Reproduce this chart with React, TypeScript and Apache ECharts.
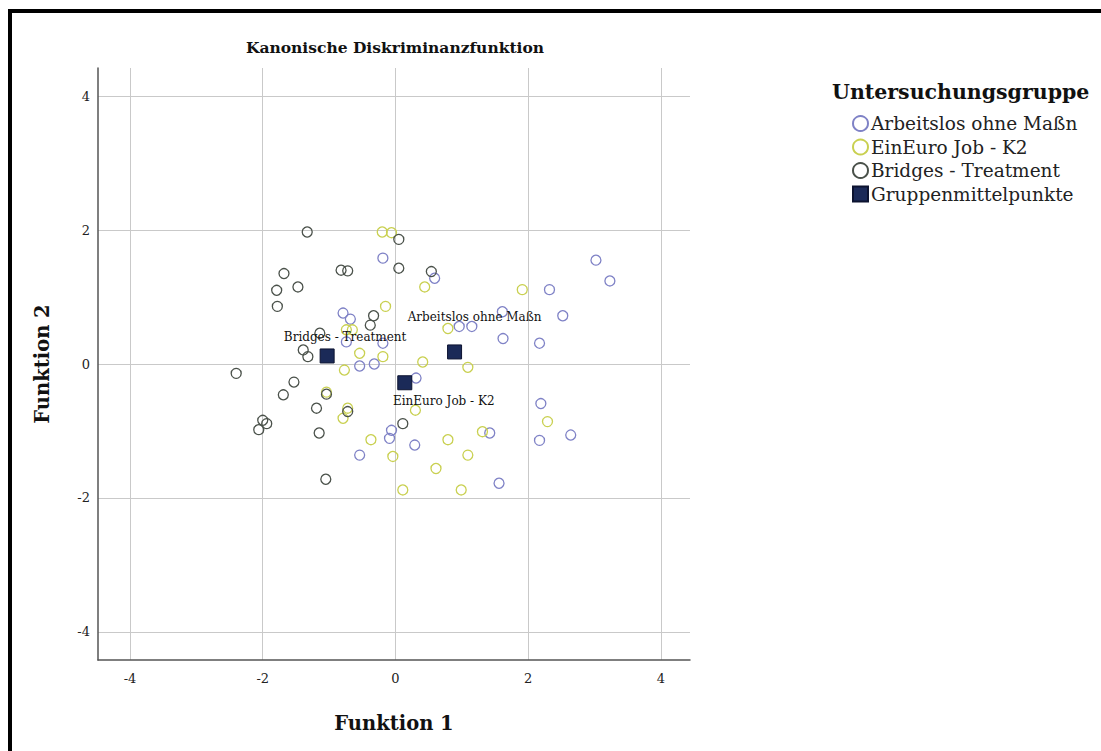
import React, { useEffect, useRef } from "react";
import * as echarts from "echarts";

// Discriminant scores per group: [Funktion 1, Funktion 2]
const arbeitslos: number[][] = [
  [-0.19, 1.58], [0.59, 1.28], [2.32, 1.11], [3.02, 1.55], [3.23, 1.24],
  [1.61, 0.78], [2.52, 0.72], [0.96, 0.56], [1.15, 0.56], [1.62, 0.38],
  [2.17, 0.31], [0.31, -0.21], [-0.79, 0.76], [-0.68, 0.67], [-0.74, 0.33],
  [-0.19, 0.31], [-0.54, -0.03], [-0.32, 0.0], [-0.54, -1.36], [-0.09, -1.11],
  [-0.06, -0.99], [0.29, -1.21], [1.42, -1.03], [1.56, -1.78], [2.19, -0.59],
  [2.17, -1.14], [2.64, -1.06],
];

const einEuro: number[][] = [
  [-0.2, 1.97], [-0.06, 1.96], [0.44, 1.15], [1.91, 1.11], [-0.15, 0.86],
  [-0.74, 0.51], [-0.65, 0.51], [0.79, 0.53], [-0.54, 0.16], [-0.19, 0.11],
  [-0.77, -0.09], [0.41, 0.03], [1.09, -0.05], [-1.04, -0.42], [-0.72, -0.66],
  [-0.79, -0.81], [-0.37, -1.13], [-0.04, -1.38], [0.11, -1.88], [0.3, -0.69],
  [0.79, -1.13], [1.09, -1.36], [1.31, -1.01], [0.61, -1.56], [0.99, -1.88],
  [2.29, -0.86],
];

const bridges: number[][] = [
  [-1.33, 1.97], [0.05, 1.86], [0.05, 1.43], [-0.82, 1.4], [-0.72, 1.39],
  [-1.68, 1.35], [-1.47, 1.15], [-1.79, 1.1], [-1.78, 0.86], [-0.33, 0.72],
  [-0.38, 0.58], [-1.14, 0.46], [-1.39, 0.21], [-1.32, 0.11], [-2.4, -0.14],
  [-1.53, -0.27], [-1.69, -0.46], [-1.04, -0.45], [-1.19, -0.66], [-0.72, -0.71],
  [-2.0, -0.84], [-1.94, -0.89], [-2.06, -0.98], [-1.15, -1.03], [-1.05, -1.72],
  [0.11, -0.89], [0.54, 1.38],
];

const centroidNames = ["Arbeitslos ohne Maßn", "EinEuro Job - K2", "Bridges - Treatment"];
const centroids: number[][] = [
  [0.89, 0.18],
  [0.14, -0.28],
  [-1.03, 0.12],
];

const groupNames = ["Arbeitslos ohne Maßn", "EinEuro Job - K2", "Bridges - Treatment"];
const centroidLegend = "Gruppenmittelpunkte";
const tickValues = [-4, -2, 0, 2, 4];

const SERIF = "'DejaVu Serif', 'Liberation Serif', serif";

export default function App() {
  const ref = useRef<HTMLDivElement>(null);

  useEffect(() => {
    if (!ref.current) return;
    document.body.style.overflow = "hidden";
    const chart = echarts.init(ref.current, null, { renderer: "svg" });

    const groupColors = ["#7f82c6", "#c9d050", "#4a514a"];
    const groupData = [arbeitslos, einEuro, bridges];

    const scatter = groupNames.map((name, i) => ({
      name,
      type: "scatter",
      data: groupData[i],
      symbol: "circle",
      symbolSize: 10,
      itemStyle: {
        color: "rgba(255,255,255,0)",
        borderColor: groupColors[i],
        borderWidth: 1.3,
        opacity: 1,
      },
      z: 3,
    }));

    const labelPlacement: any[] = [
      { position: "top", offset: [20, -16] },
      { position: "bottom", offset: [39, 0] },
      { position: "top", offset: [18, 0] },
    ];

    const centroidSeries = {
      name: centroidLegend,
      type: "scatter",
      symbol: "rect",
      symbolSize: 14,
      z: 5,
      itemStyle: { color: "#1b2a58", borderColor: "#0c1330", borderWidth: 1, opacity: 1 },
      data: centroids.map((c, i) => ({
        value: c,
        name: centroidNames[i],
        label: {
          show: true,
          formatter: centroidNames[i],
          distance: 5,
          fontFamily: SERIF,
          fontSize: 12,
          color: "#111",
          ...labelPlacement[i],
        },
      })),
    };

    const axisCommon = {
      type: "value" as const,
      axisLine: { show: true, onZero: false, lineStyle: { color: "#555", width: 1.5 } },
      axisTick: { show: false, customValues: tickValues },
      splitLine: { show: true, lineStyle: { color: "#c9c9c9", width: 1 } },
      nameTextStyle: { fontFamily: SERIF, fontWeight: "bold", fontSize: 19.5, color: "#111" },
    };

    chart.setOption({
      animation: false,
      backgroundColor: "rgba(0,0,0,0)",
      title: [
        {
          text: "Kanonische Diskriminanzfunktion",
          left: 390,
          top: 34,
          textAlign: "center",
          textStyle: { fontFamily: SERIF, fontWeight: "bold", fontSize: 15.5, color: "#111" },
        },
        {
          text: "Untersuchungsgruppe",
          left: 827,
          top: 76,
          textStyle: { fontFamily: SERIF, fontWeight: "bold", fontSize: 20.5, color: "#111" },
        },
      ],
      legend: {
        orient: "vertical",
        left: 847,
        top: 108,
        itemWidth: 15,
        itemHeight: 15,
        itemGap: 2.5,
        data: [
          { name: groupNames[0], icon: "circle" },
          { name: groupNames[1], icon: "circle" },
          { name: groupNames[2], icon: "circle" },
          { name: centroidLegend, icon: "rect" },
        ],
        textStyle: { fontFamily: SERIF, fontSize: 18.5, color: "#222", lineHeight: 21, padding: [0, 0, 0, -2] },
      },
      grid: { left: 98, top: 68, width: 592, height: 592, containLabel: false },
      xAxis: {
        ...axisCommon,
        min: -4.482,
        max: 4.437,
        position: "bottom",
        name: "Funktion 1",
        nameLocation: "middle",
        nameGap: 53,
        axisLabel: {
          customValues: tickValues,
          margin: 12,
          fontFamily: SERIF,
          fontSize: 13,
          color: "#222",
        },
      },
      yAxis: {
        ...axisCommon,
        min: -4.418,
        max: 4.418,
        position: "left",
        name: "Funktion 2",
        nameLocation: "middle",
        nameGap: 46,
        nameRotate: 90,
        axisLabel: {
          customValues: tickValues,
          margin: 8,
          fontFamily: SERIF,
          fontSize: 13,
          color: "#222",
        },
      },
      series: [...scatter, centroidSeries],
    });

    return () => chart.dispose();
  }, []);

  return (
    <div style={{ position: "fixed", left: 0, top: 0, width: 1101, height: 751, overflow: "hidden", background: "#fff" }}>
      <div
        style={{
          position: "absolute",
          left: 8,
          top: 9,
          width: 1300,
          height: 1000,
          border: "4px solid #000",
          boxSizing: "border-box",
        }}
      />
      <div ref={ref} style={{ position: "absolute", left: 0, top: 0, width: 1101, height: 751 }} />
    </div>
  );
}
